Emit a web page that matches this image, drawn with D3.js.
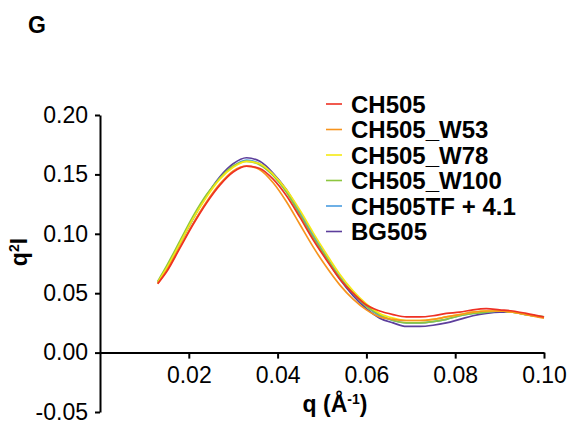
<html>
<head>
<meta charset="utf-8">
<style>
body{
  margin:0;
  padding:0;
  background:white;
  overflow:hidden;
}
#chart text{
  font-family: 'Liberation Sans', Arial, sans-serif;
}
</style>
</head>
<body>
<div id="chart"></div>
<script src="https://cdn.jsdelivr.net/npm/d3@7"></script>
<script>
// ========== DATA ==========
const qValues = [0.013,0.015,0.018,0.021,0.024,0.027,0.030,0.033,0.036,0.039,0.042,0.045,0.048,0.051,0.054,0.057,0.060,0.063,0.066,0.069,0.072,0.075,0.078,0.081,0.084,0.087,0.090,0.093,0.096,0.100];

const ch505      = [0.058,0.068,0.088,0.108,0.126,0.141,0.152,0.157,0.155,0.146,0.132,0.114,0.095,0.078,0.062,0.050,0.040,0.035,0.032,0.030,0.030,0.031,0.033,0.034,0.036,0.037,0.036,0.035,0.033,0.030];
const ch505_w53  = [0.058,0.069,0.089,0.109,0.127,0.142,0.153,0.157,0.154,0.143,0.127,0.108,0.089,0.072,0.057,0.045,0.036,0.030,0.028,0.027,0.027,0.028,0.030,0.032,0.034,0.035,0.035,0.034,0.032,0.029];
const ch505_w78  = [0.059,0.071,0.092,0.113,0.131,0.146,0.156,0.161,0.159,0.150,0.137,0.120,0.101,0.083,0.066,0.052,0.041,0.033,0.029,0.027,0.027,0.028,0.030,0.032,0.034,0.035,0.035,0.034,0.032,0.030];
const ch505_w100 = [0.060,0.073,0.094,0.115,0.133,0.147,0.157,0.161,0.158,0.149,0.135,0.116,0.097,0.080,0.063,0.050,0.039,0.032,0.027,0.025,0.025,0.026,0.028,0.031,0.033,0.034,0.035,0.034,0.032,0.030];
const ch505tf    = [0.059,0.071,0.092,0.113,0.132,0.147,0.157,0.162,0.159,0.150,0.136,0.118,0.099,0.081,0.064,0.050,0.039,0.031,0.027,0.025,0.025,0.026,0.028,0.031,0.033,0.034,0.035,0.034,0.032,0.030];
const bg505      = [0.059,0.071,0.092,0.113,0.132,0.148,0.159,0.164,0.161,0.151,0.137,0.118,0.098,0.079,0.062,0.048,0.037,0.029,0.025,0.022,0.022,0.023,0.025,0.028,0.031,0.033,0.034,0.034,0.032,0.030];

const seriesNames  = ["CH505","CH505_W53","CH505_W78","CH505_W100","CH505TF + 4.1","BG505"];
const seriesValues = [ch505, ch505_w53, ch505_w78, ch505_w100, ch505tf, bg505];
const seriesColors = ["#ee3124","#f7941d","#f5ea14","#8dc63f","#4a9de0","#5c3e9c"];

const yTicks = [-0.05,0.00,0.05,0.10,0.15,0.20];
const xTicks = [0.02,0.04,0.06,0.08,0.10];

//========== SVG VIEW =============
const width = 570, height = 426;
const svg = d3.select("#chart").append("svg")
    .attr("width", width).attr("height", height);

const x = d3.scaleLinear().domain([0, 0.10]).range([100, 544]);
const y = d3.scaleLinear().domain([-0.05, 0.20]).range([412, 115]);

const fmt = d => d3.format(".2f")(d).replace("−", "-");   // plain hyphen like the original

// panel letter
svg.append("text")
    .attr("x", 28).attr("y", 33)
    .style("font-size", "23px").style("font-weight", "bold")
    .text("G");

//========== AXES ============
const yAxis = svg.append("g")
    .attr("transform", "translate(100,0)")
    .call(d3.axisLeft(y).tickValues(yTicks).tickFormat(fmt)
          .tickSize(5).tickSizeOuter(0).tickPadding(7));

const xAxis = svg.append("g")
    .attr("transform", "translate(0," + y(0) + ")")
    .call(d3.axisBottom(x).tickValues(xTicks).tickFormat(fmt)
          .tickSize(6).tickSizeOuter(0).tickPadding(8));

[yAxis, xAxis].forEach(a => {
  a.select(".domain").attr("stroke", "#000").attr("stroke-width", 2);
  a.selectAll(".tick line").attr("stroke", "#000").attr("stroke-width", 2);
  a.selectAll(".tick text")
      .attr("fill", "#000")
      .style("font-size", "23px")
      .style("font-family", "'Liberation Sans', Arial, sans-serif");
});

// axis titles
const xTitle = svg.append("text")
    .attr("x", 335).attr("y", 412)
    .attr("text-anchor", "middle")
    .style("font-size", "23px").style("font-weight", "bold");
xTitle.append("tspan").text("q (Å");
xTitle.append("tspan").attr("dy", -8).style("font-size", "14px").text("-1");
xTitle.append("tspan").attr("dy", 8).text(")");

const yTitle = svg.append("text")
    .attr("transform", "translate(27,252) rotate(-90)")
    .attr("text-anchor", "middle")
    .style("font-size", "23px").style("font-weight", "bold");
yTitle.append("tspan").text("q");
yTitle.append("tspan").attr("dy", -8).style("font-size", "14px").text("2");
yTitle.append("tspan").attr("dy", 8).text("I");

//========== LINES ============
const line = d3.line()
    .x((d, i) => x(qValues[i]))
    .y(d => y(d))
    .curve(d3.curveMonotoneX);

// draw in reverse so CH505 sits on top
const order = d3.range(seriesNames.length).reverse();
svg.append("g").selectAll("path")
  .data(order)
  .enter().append("path")
    .attr("d", i => line(seriesValues[i]))
    .attr("fill", "none")
    .attr("stroke", i => seriesColors[i])
    .attr("stroke-width", 1.7);

//========== LEGEND ============
const legend = svg.append("g").selectAll("g")
  .data(seriesNames)
  .enter().append("g")
    .attr("transform", (d, i) => "translate(326," + (104 + i * 25.5) + ")");

legend.append("line")
    .attr("x1", 0).attr("x2", 16)
    .attr("stroke", (d, i) => seriesColors[i])
    .attr("stroke-width", 1.6);

legend.append("text")
    .attr("x", 25).attr("dy", "0.36em")
    .style("font-size", "24px").style("font-weight", "bold")
    .text(d => d);
</script>
</body>
</html>
